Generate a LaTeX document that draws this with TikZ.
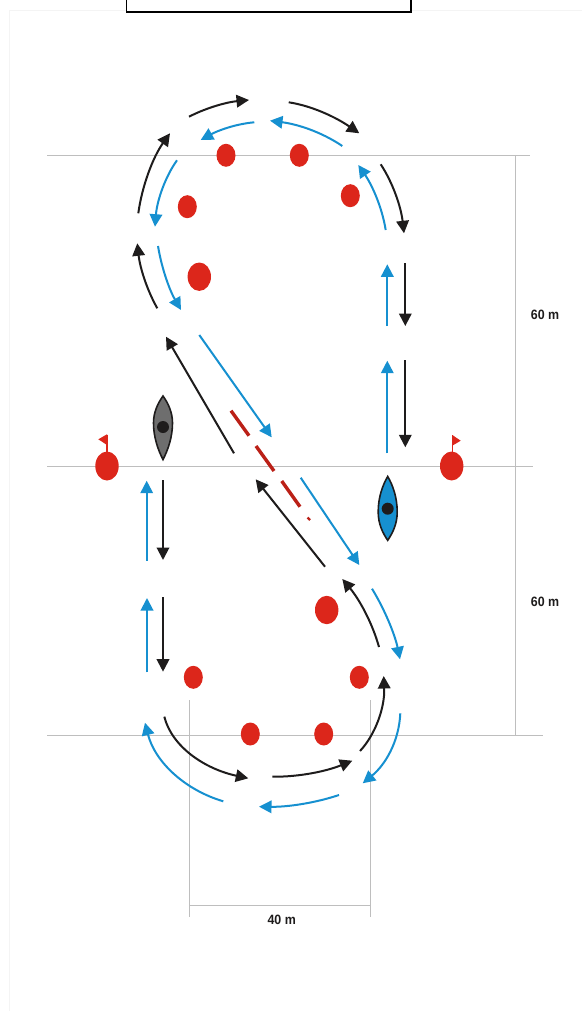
\documentclass[tikz,border=0pt]{standalone}
\usepackage{fontspec}
\setmainfont{Liberation Sans}
\usetikzlibrary{arrows.meta}
\definecolor{rd}{RGB}{220,38,27}
\definecolor{bl}{RGB}{22,144,208}
\definecolor{bk}{RGB}{30,28,28}
\definecolor{gr}{RGB}{190,190,190}
\definecolor{kg}{RGB}{110,110,110}
\definecolor{edge}{RGB}{244,244,244}
\tikzset{
  x=1pt,y=-1pt,
  arrk/.style={draw=bk,line width=2pt,-{Triangle[length=12.5pt,width=12.5pt]}},
  arrb/.style={draw=bl,line width=2pt,-{Triangle[length=12.5pt,width=12.5pt]}},
  guide/.style={draw=gr,line width=0.8pt},
  buoy/.style={fill=rd,draw=none},
  lab/.style={font=\bfseries\fontsize{13.5}{14}\selectfont,text=bk,inner sep=0pt,xscale=0.92},
  dashred/.style={draw=rd!85!black,line width=3.4pt},
  kayak/.style={draw=bk,line width=1.6pt}
}
\begin{document}
\begin{tikzpicture}
\useasboundingbox (0,0) rectangle (582,1011);
% faint page edge
\draw[edge,line width=0.8pt] (9,1011) -- (9,10.5) -- (582,10.5);
% guides
\draw[guide] (47,155) -- (530,155);
\draw[guide] (47,466.3) -- (533,466.3);
\draw[guide] (47,735) -- (543,735);
\draw[guide] (515.7,155) -- (515.7,735);
\draw[guide] (189.3,700) -- (189.3,917);
\draw[guide] (370,700) -- (370,917);
\draw[guide] (189.3,905.7) -- (370,905.7);
% top box
\draw[black,line width=1.8pt,fill=white] (126.5,-5) rectangle (411,12);
% labels
\node[lab] (l1) at (545,315) {60 m};
\node[lab] (l2) at (545,602) {60 m};
\node[lab] (l3) at (281.7,920) {40 m};
% buoys
\foreach \n/\x/\y in {b1/226/155.3,b2/299.3/155.3,b3/350.3/195.7,b4/187.3/206.7,b5/193.3/677.3,b6/359.3/677.3,b7/250.3/734,b8/323.7/734}
  \fill[buoy] (\x,\y) ellipse [x radius=9.5,y radius=11.5];
\foreach \n/\x/\y in {c1/199.3/276.7,c2/326.7/610}
  \fill[buoy] (\x,\y) ellipse [x radius=11.7,y radius=14.2];
% flags
\fill[buoy] (107,466) ellipse [x radius=11.7,y radius=14.5];
\fill[buoy] (451.7,466) ellipse [x radius=11.7,y radius=14.5];
\draw[rd,line width=1.2pt] (107,434.5) -- (107,455);
\draw[rd,line width=1.2pt] (452.3,435) -- (452.3,455);
\fill[rd] (107,434.3) -- (98.3,439.3) -- (107,445) -- cycle;
\fill[rd] (452.3,435) -- (460.7,440.7) -- (452.3,445.7) -- cycle;
% kayaks
\filldraw[kayak,fill=kg] (163,396) .. controls (158,403) and (153.5,412) .. (153.5,423) .. controls (153.5,437) and (158,450) .. (163,459.5) .. controls (168,450) and (172.5,437) .. (172.5,423) .. controls (172.5,412) and (168,403) .. (163,396) -- cycle;
\fill[bk] (163,427) circle (6);
\filldraw[kayak,fill=bl] (387.7,476.5) .. controls (382.7,485) and (378.2,497) .. (378.2,512) .. controls (378.2,524) and (382.7,533) .. (387.7,540.3) .. controls (392.7,533) and (397.2,524) .. (397.2,512) .. controls (397.2,497) and (392.7,485) .. (387.7,476.5) -- cycle;
\fill[bk] (387.7,508.7) circle (6);
% red dashes
\draw[dashred] (231,410.7) -- (249,435.7);
\draw[dashred] (256,446) -- (274,471);
\draw[dashred] (281.7,481) -- (300,506.7);
\draw[dashred,line width=2.4pt] (307.5,517.5) -- (310,520);
% black arrows
\draw[arrk] (189,116.7) .. controls (208,107) and (228,102) .. (249,100);
\draw[arrk] (288.7,102.3) .. controls (313,106) and (337,118) .. (359.3,133.3);
\draw[arrk] (380.7,164.3) .. controls (393,183) and (401,207) .. (404,233.3);
\draw[arrk] (405.3,263.3) -- (405.3,326);
\draw[arrk] (138.3,213.3) .. controls (142,186) and (153,157) .. (170,133.3);
\draw[arrk] (157.3,308.3) .. controls (147,290) and (140,268) .. (137.3,243.3);
\draw[arrk] (234,453.3) -- (166,336.7);
\draw[arrk] (405.3,360) -- (405.3,447.3);
\draw[arrk] (163,480) -- (163,560);
\draw[arrk] (163,597) -- (163,671.7);
\draw[arrk] (325,566.7) -- (255.7,479.3);
\draw[arrk] (379,647) .. controls (372,622) and (359,599) .. (342.3,579);
\draw[arrk] (164.3,716.7) .. controls (172,747) and (205,769) .. (248.3,778.3);
\draw[arrk] (272.3,776.7) .. controls (300,777) and (327,771) .. (352.3,760.7);
\draw[arrk] (360,751) .. controls (375,735) and (385,708) .. (383.7,676);
% blue arrows
\draw[arrb] (254.3,122.3) .. controls (235,124) and (217,131) .. (200.7,140);
\draw[arrb] (342.3,146) .. controls (320,131) and (296,124) .. (270,120.7);
\draw[arrb] (385.7,230) .. controls (382,207) and (372,185) .. (358.3,165);
\draw[arrb] (387.3,326) -- (387.3,264.3);
\draw[arrb] (177,160.3) .. controls (165,177) and (157,201) .. (155,226.7);
\draw[arrb] (158,246) .. controls (162,270) and (170,291) .. (181,310);
\draw[arrb] (199.3,335) -- (271.7,437.3);
\draw[arrb] (387.3,453.3) -- (387.3,360.7);
\draw[arrb] (146.7,560.7) -- (146.7,480.7);
\draw[arrb] (147,672.3) -- (147,598);
\draw[arrb] (300.7,477.7) -- (359.3,565);
\draw[arrb] (372,588.7) .. controls (385,610) and (395,635) .. (400,659.3);
\draw[arrb] (223.3,801.3) .. controls (185,790) and (155,762) .. (145,722.7);
\draw[arrb] (339,795) .. controls (315,803) and (288,807) .. (259,806.7);
\draw[arrb] (400.3,713.3) .. controls (399,742) and (385,765) .. (362.7,783.3);
\end{tikzpicture}
\end{document}
